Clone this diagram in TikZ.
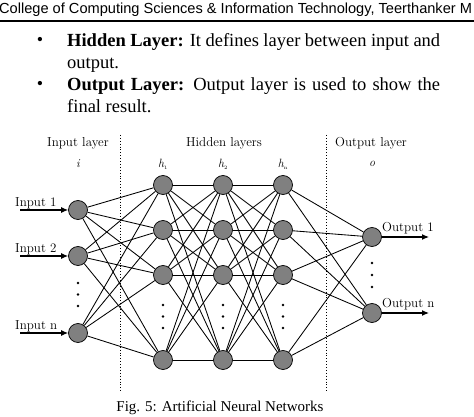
\documentclass[tikz,border=0pt]{standalone}
\usepackage{fontspec}
\newfontfamily\serifT{Liberation Serif}
\newfontfamily\sansA{Liberation Sans}
\usetikzlibrary{arrows.meta}
\begin{document}
\begin{tikzpicture}[x=1pt,y=-1pt,
  neuron/.style={circle,draw=black,fill=black!50,line width=0.7pt,minimum size=19pt,inner sep=0pt},
  link/.style={line width=0.85pt},
  io/.style={line width=1.1pt,-{Latex[length=7pt,width=6pt]}},
  lbl/.style={font=\fontsize{13}{15}\selectfont,inner sep=0pt},
  sym/.style={font=\fontsize{12}{14}\selectfont\itshape,inner sep=0pt},
  vdots/.style={circle,fill=black,inner sep=0pt,minimum size=2.8pt},
  body/.style={anchor=base west,inner sep=0pt,font=\serifT\fontsize{18.5}{21}\selectfont},
  sep/.style={dotted,line width=0.9pt}]
\useasboundingbox (0,0) rectangle (474,417);
% header
\node[anchor=west,inner sep=0pt,font=\sansA\fontsize{14.6}{16}\selectfont] (hdr) at (-1,10) {College of Computing Sciences \& Information Technology, Teerthanker M};
\draw[line width=1.6pt] (0,21) -- (474,21);
% bullets
\node[font=\serifT\fontsize{18}{20}\selectfont,inner sep=0pt] (b1) at (40,41) {•};
\node[font=\serifT\fontsize{18}{20}\selectfont,inner sep=0pt] (b2) at (40,85) {•};
\node[body] (t1) at (67,47) {\makebox[373pt][s]{\textbf{Hidden Layer:} It defines layer between input and}};
\node[body] (t2) at (67,69) {output.};
\node[body] (t3) at (67,91) {\makebox[373pt][s]{\textbf{Output Layer:} Output layer is used to show the}};
\node[body] (t4) at (67,113) {final result.};
% separators
\coordinate (s1a) at (120.7,135); \coordinate (s1b) at (120.7,391);
\coordinate (s2a) at (326,135); \coordinate (s2b) at (326,391);
\draw[sep] (s1a) -- (s1b);
\draw[sep] (s2a) -- (s2b);
% layer titles
\node[lbl] (Lin) at (78,143) {Input layer};
\node[lbl] (Lhid) at (224,143) {Hidden layers};
\node[lbl] (Lout) at (371,143) {Output layer};
\node[sym] (si) at (78,164) {i};
\node[sym] (sh1) at (163,164) {h\textsubscript{\upshape\tiny 1}};
\node[sym] (sh2) at (223,164) {h\textsubscript{\upshape\tiny 2}};
\node[sym] (shn) at (283,164) {h\textsubscript{\upshape\tiny n}};
\node[sym] (so) at (372,164) {o};
% input neurons
\node[neuron] (i1) at (78,210) {};
\node[neuron] (i2) at (78,256) {};
\node[neuron] (i3) at (78,333) {};
\node[vdots] (id1) at (78,283) {};
\node[vdots] (id2) at (78,294.5) {};
\node[vdots] (id3) at (78,306) {};
% hidden neurons
\foreach \c/\x in {a/163,b/223,c/283}{
  \node[neuron] (\c1) at (\x,185) {};
  \node[neuron] (\c2) at (\x,230) {};
  \node[neuron] (\c3) at (\x,275) {};
  \node[neuron] (\c4) at (\x,360) {};
  \node[vdots] (\c d1) at (\x,305) {};
  \node[vdots] (\c d2) at (\x,316.5) {};
  \node[vdots] (\c d3) at (\x,328) {};
}
% output neurons
\node[neuron] (o1) at (372,237) {};
\node[neuron] (o2) at (372,313) {};
\node[vdots] (od1) at (372,263) {};
\node[vdots] (od2) at (372,275) {};
\node[vdots] (od3) at (372,287) {};
% connections
\foreach \s in {1,2,3}{\foreach \t in {1,2,3,4}{\draw[link] (i\s) -- (a\t);}}
\foreach \s in {1,2,3,4}{\foreach \t in {1,2,3,4}{\draw[link] (a\s) -- (b\t); \draw[link] (b\s) -- (c\t);}}
\foreach \s in {1,2,3,4}{\foreach \t in {1,2}{\draw[link] (c\s) -- (o\t);}}
% inputs
\coordinate (in1) at (20,210); \coordinate (in2) at (20,256); \coordinate (in3) at (20,333);
\draw[io] (in1) -- (i1);
\draw[io] (in2) -- (i2);
\draw[io] (in3) -- (i3);
\node[lbl,anchor=base west] (li1) at (15,206) {Input 1};
\node[lbl,anchor=base west] (li2) at (15,252) {Input 2};
\node[lbl,anchor=base west] (li3) at (15,329) {Input n};
% outputs
\coordinate (out1) at (429,237); \coordinate (out2) at (429,313);
\draw[io] (o1) -- (out1);
\draw[io] (o2) -- (out2);
\node[lbl,anchor=base west] (lo1) at (382,231) {Output 1};
\node[lbl,anchor=base west] (lo2) at (382,307) {Output n};
% caption
\node[font=\serifT\fontsize{15}{18}\selectfont,inner sep=0pt] (cap) at (220,408) {Fig. 5: Artificial Neural Networks};
\end{tikzpicture}
\end{document}
